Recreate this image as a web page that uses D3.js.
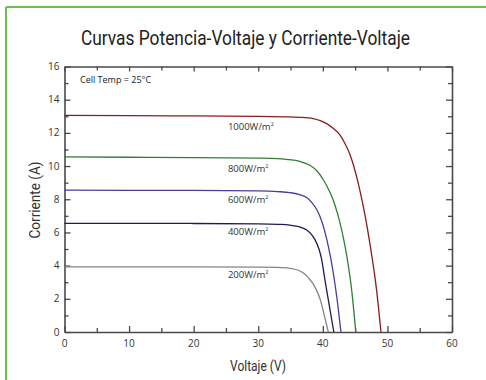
<!DOCTYPE html>
<html>
<head>
<meta charset="utf-8">
<script src="https://cdn.jsdelivr.net/npm/d3@7"></script>
<style>
  html, body { margin: 0; padding: 0; background: #fff; }
  svg { display: block; }
</style>
</head>
<body>
<svg id="chart" width="486" height="380"></svg>
<script>
// I-V curves of a PV module at several irradiance levels (cell temp 25 °C)
const irradianceLabels = ["1000W/m", "800W/m", "600W/m", "400W/m", "200W/m"];
const seriesColors = ["#8a1c1c", "#2f7f35", "#4a3c9c", "#1d1d50", "#858585"];

const volts1000 = [0, 10, 20, 30, 34, 36.4, 38.5, 39.6, 40.6, 41.6, 42.7, 43.5, 44.2, 45.0, 45.7, 46.5, 47.3, 48.3, 49.0];
const amps1000  = [13.05, 13.04, 13.02, 13.0, 12.97, 12.94, 12.86, 12.74, 12.56, 12.28, 11.85, 11.3, 10.7, 9.7, 8.6, 7.1, 5.3, 2.6, 0];

const volts800 = [0, 10, 20, 30, 33, 34.4, 36.45, 38.0, 39.1, 40.1, 41.0, 41.6, 42.3, 43.0, 43.7, 44.5, 45.1];
const amps800  = [10.55, 10.53, 10.51, 10.48, 10.45, 10.4, 10.28, 10.05, 9.7, 9.16, 8.5, 7.96, 7.1, 6.0, 4.6, 2.4, 0];

const volts600 = [0, 10, 20, 30, 33, 34.9, 36.5, 37.5, 38.3, 39.1, 39.9, 40.6, 41.2, 41.6, 42.2, 42.8];
const amps600  = [8.55, 8.54, 8.53, 8.5, 8.46, 8.4, 8.27, 8.1, 7.8, 7.35, 6.6, 5.6, 4.5, 3.6, 2.0, 0];

const volts400 = [0, 10, 20, 30, 33, 34.9, 36.4, 37.5, 38.2, 38.8, 39.4, 39.8, 40.3, 40.85, 41.7];
const amps400  = [6.55, 6.55, 6.54, 6.52, 6.49, 6.44, 6.33, 6.15, 5.9, 5.55, 5.0, 4.4, 3.2, 1.93, 0];

const volts200 = [0, 10, 20, 30, 33, 34.9, 36.2, 37.0, 37.8, 38.5, 39.1, 39.6, 40.2, 40.85];
const amps200  = [3.93, 3.93, 3.92, 3.91, 3.89, 3.84, 3.72, 3.55, 3.25, 2.9, 2.45, 1.95, 1.05, 0];

const seriesVolts = [volts1000, volts800, volts600, volts400, volts200];
const seriesAmps  = [amps1000, amps800, amps600, amps400, amps200];

// label anchor values (V, A) for each irradiance tag
const labelVolts = [25.3, 25.3, 25.3, 25.3, 25.3];
const labelAmps  = [12.2, 9.65, 7.75, 5.83, 3.25];

const xTicks = [0, 10, 20, 30, 40, 50, 60];
const yTicks = [0, 2, 4, 6, 8, 10, 12, 14, 16];

const svg = d3.select("#chart");
const W = 486, H = 380;
const plot = { left: 64.5, right: 452, top: 66.5, bottom: 332 };

const x = d3.scaleLinear().domain([0, 60]).range([plot.left, plot.right]);
const y = d3.scaleLinear().domain([0, 16]).range([plot.bottom, plot.top]);

// green page frame
svg.append("line").attr("x1", 6).attr("x2", 6).attr("y1", 7).attr("y2", H)
  .attr("stroke", "#6cbf4c").attr("stroke-width", 2);
svg.append("line").attr("x1", 6).attr("x2", W).attr("y1", 7).attr("y2", 7)
  .attr("stroke", "#6cbf4c").attr("stroke-width", 2);

const narrowFont = "Roboto, 'Liberation Sans', sans-serif";

// title
svg.append("text")
  .attr("x", 245.5).attr("y", 45)
  .attr("text-anchor", "middle")
  .attr("font-family", narrowFont)
  .attr("font-size", 19.5)
  .attr("textLength", 329).attr("lengthAdjust", "spacingAndGlyphs")
  .attr("fill", "#222")
  .text("Curvas Potencia-Voltaje y Corriente-Voltaje");

const tickFont = "'Open Sans', 'DejaVu Sans', sans-serif";
const axisColor = "#4a4a4a";

// minor/major ticks, all pointing into the plot
const xMinor = d3.range(0, 61, 5);
const yMinor = d3.range(0, 17, 1);

const axB = svg.append("g").attr("transform", `translate(0,${plot.bottom})`)
  .call(d3.axisBottom(x).tickValues(xMinor).tickSize(0).tickFormat(""));
const axT = svg.append("g").attr("transform", `translate(0,${plot.top})`)
  .call(d3.axisTop(x).tickValues(xMinor).tickSize(0).tickFormat(""));
const axL = svg.append("g").attr("transform", `translate(${plot.left},0)`)
  .call(d3.axisLeft(y).tickValues(yMinor).tickSize(0).tickFormat(""));
const axR = svg.append("g").attr("transform", `translate(${plot.right},0)`)
  .call(d3.axisRight(y).tickValues(yMinor).tickSize(0).tickFormat(""));

[axB, axT, axL, axR].forEach(g => {
  g.select(".domain").attr("stroke", axisColor).attr("stroke-width", 1.6);
});

axB.selectAll(".tick line").attr("y2", d => d % 10 === 0 ? -6 : -4)
  .attr("stroke", axisColor).attr("stroke-width", 1.3);
axT.selectAll(".tick line").attr("y2", d => d % 10 === 0 ? 5 : 4)
  .attr("stroke", axisColor).attr("stroke-width", 1.3);
axL.selectAll(".tick line").attr("x2", d => d % 2 === 0 ? 6 : 4)
  .attr("stroke", axisColor).attr("stroke-width", 1.3);
axR.selectAll(".tick line").attr("x2", d => d % 2 === 0 ? -6 : -4)
  .attr("stroke", axisColor).attr("stroke-width", 1.3);

// tick labels
svg.append("g").selectAll("text").data(xTicks).join("text")
  .attr("x", d => x(d)).attr("y", plot.bottom + 15)
  .attr("text-anchor", "middle")
  .attr("font-family", tickFont).attr("font-size", 10).attr("fill", "#333")
  .text(d => d);
svg.append("g").selectAll("text").data(yTicks).join("text")
  .attr("x", plot.left - 5).attr("y", d => y(d) + 3.5)
  .attr("text-anchor", "end")
  .attr("font-family", tickFont).attr("font-size", 10).attr("fill", "#333")
  .text(d => d);

// axis titles
svg.append("text")
  .attr("x", 258).attr("y", 371)
  .attr("text-anchor", "middle")
  .attr("font-family", narrowFont)
  .attr("font-size", 15)
  .attr("textLength", 56).attr("lengthAdjust", "spacingAndGlyphs")
  .attr("fill", "#333")
  .text("Voltaje (V)");
svg.append("text")
  .attr("transform", `translate(40,200) rotate(-90)`)
  .attr("text-anchor", "middle")
  .attr("font-family", narrowFont)
  .attr("font-size", 15)
  .attr("textLength", 77).attr("lengthAdjust", "spacingAndGlyphs")
  .attr("fill", "#333")
  .text("Corriente (A)");

// curves
const line = d3.line()
  .x(d => x(d[0])).y(d => y(d[1]))
  .curve(d3.curveMonotoneX);

seriesVolts.forEach((vs, i) => {
  const pts = vs.map((v, j) => [v, seriesAmps[i][j]]);
  svg.append("path")
    .datum(pts)
    .attr("d", line)
    .attr("fill", "none")
    .attr("stroke", seriesColors[i])
    .attr("stroke-width", 1.3);
});

// irradiance tags
irradianceLabels.forEach((lab, i) => {
  const t = svg.append("text")
    .attr("x", x(labelVolts[i])).attr("y", y(labelAmps[i]))
    .attr("font-family", tickFont).attr("font-size", 9.5).attr("fill", "#333");
  t.append("tspan").text(lab);
  t.append("tspan").attr("font-size", 5.5).attr("dy", -4).text("2");
});

// temperature note
svg.append("text")
  .attr("x", 80).attr("y", 83)
  .attr("font-family", tickFont).attr("font-size", 9).attr("fill", "#222")
  .text("Cell Temp = 25°C");
</script>
</body>
</html>
